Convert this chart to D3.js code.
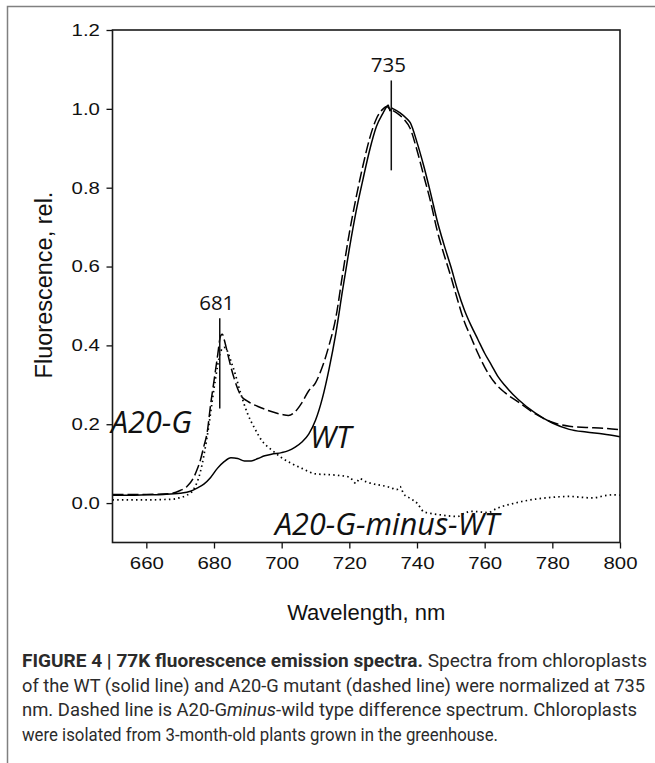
<!DOCTYPE html>
<head>
  <meta charset="utf-8">
  <script src="https://cdn.jsdelivr.net/npm/d3@7"></script>
  <style>
    body { margin:0; background:#fff; }
    svg { display:block; }
  </style>
</head>

<body>
  <script>
    // spectra: [wavelength nm, fluorescence rel.]
    var wtSpectrum = [
      [650,0.020],[655,0.020],[660,0.021],[665,0.022],[670,0.025],[673,0.030],[675,0.038],
      [677,0.048],[679,0.065],[681,0.088],[683,0.105],[685,0.115],[687,0.113],[689,0.107],
      [691,0.107],[693,0.113],[695,0.120],[697,0.124],[700,0.128],[702,0.133],[704,0.142],
      [706,0.155],[708,0.175],[710,0.210],[712,0.265],[714,0.340],[716,0.430],[718,0.540],
      [720,0.645],[722,0.740],[724,0.820],[726,0.895],[728,0.955],[730,0.990],[731,1.005],
      [731.5,1.010],[732,0.995],[732.5,1.002],[733,1.000],[735,0.990],[737,0.975],[738,0.965],
      [740,0.915],[742,0.855],[744,0.787],[746,0.715],[748,0.655],[750,0.600],[752,0.540],
      [754,0.490],[756,0.450],[758,0.415],[760,0.380],[762,0.350],[764,0.320],[766,0.298],
      [770,0.262],[775,0.228],[780,0.203],[785,0.187],[790,0.180],[795,0.175],[800,0.168]
    ];
    var a20gSpectrum = [
      [650,0.022],[660,0.022],[667,0.024],[670,0.032],[672,0.042],[674,0.065],[675,0.085],
      [676,0.110],[677,0.144],[678,0.180],[679,0.250],[680,0.310],[681,0.370],[682,0.425],
      [682.5,0.428],[683,0.415],[684,0.380],[685,0.345],[686,0.315],[687,0.290],[688,0.272],
      [690,0.258],[693,0.245],[696,0.235],[700,0.225],[702,0.222],[704,0.232],[706,0.255],
      [708,0.285],[710,0.305],[712,0.345],[714,0.400],[716,0.470],[718,0.580],[720,0.685],
      [722,0.775],[724,0.855],[726,0.925],[728,0.975],[730,1.000],[731,1.006],[732,1.000],
      [734,0.990],[736,0.975],[738,0.950],[740,0.895],[742,0.830],[744,0.765],[746,0.690],
      [748,0.630],[750,0.575],[752,0.515],[754,0.460],[756,0.420],[758,0.380],[760,0.345],
      [763,0.305],[766,0.280],[770,0.256],[775,0.226],[780,0.205],[785,0.195],[790,0.192],
      [795,0.190],[800,0.186]
    ];
    var diffSpectrum = [
      [650,0.008],[655,0.008],[660,0.008],[665,0.009],[668,0.010],[670,0.014],[672,0.020],
      [674,0.035],[676,0.080],[678,0.170],[680,0.290],[681,0.345],[682,0.385],[683,0.395],
      [684,0.385],[685,0.360],[686,0.335],[688,0.275],[690,0.225],[692,0.190],[694,0.160],
      [697,0.135],[700,0.115],[703,0.100],[706,0.088],[710,0.074],[714,0.072],[717,0.070],
      [720,0.066],[722,0.050],[723,0.062],[725,0.054],[728,0.047],[730,0.044],[732,0.040],
      [734,0.034],[735,0.042],[736,0.024],[738,0.012],[740,0.000],[742,-0.022],[744,-0.026],
      [747,-0.030],[750,-0.033],[752,-0.034],[754,-0.026],[756,-0.021],[758,-0.022],
      [761,-0.024],[763,-0.016],[765,-0.009],[768,-0.002],[771,0.004],[775,0.010],
      [778,0.013],[782,0.016],[785,0.017],[788,0.015],[792,0.013],[795,0.018],[798,0.021],
      [800,0.020]
    ];
    var xTicks = [660,680,700,720,740,760,780,800];
    var yTicks = [0.0,0.2,0.4,0.6,0.8,1.0,1.2];
    // peak markers: label, wavelength of the line, value at bottom and top of the line
    var peakMarks = [
      {label:"681", nm:681.7, lo:0.24, hi:0.469},
      {label:"735", nm:732.4, lo:0.844, hi:1.072}
    ];
    var captionLines = [
      [["FIGURE 4 | 77K fluorescence emission spectra.","b"],[" Spectra from chloroplasts",""]],
      [["of the WT (solid line) and A20-G mutant (dashed line) were normalized at 735",""]],
      [["nm. Dashed line is A20-G",""],["minus","i"],["-wild type difference spectrum. Chloroplasts",""]],
      [["were isolated from 3-month-old plants grown in the greenhouse.",""]]
    ];
    var captionWidths = [625, 623, 615, 476];

    var width = 655, height = 763;
    var svg = d3.select("body").append("svg")
      .attr("width", width).attr("height", height);

    // outer figure frame (left + top only)
    svg.append("path")
      .attr("d", "M7.5,763V6.5H655")
      .attr("fill", "none").attr("stroke", "#808080").attr("stroke-width", 1.5);

    var x = d3.scaleLinear().domain([650, 800]).range([112.5, 620]);
    var y = d3.scaleLinear().domain([-0.1, 1.2]).range([542.5, 30]);

    var line = d3.line()
      .x(function(d) { return x(d[0]); })
      .y(function(d) { return y(d[1]); })
      .curve(d3.curveMonotoneX);

    svg.append("path").datum(diffSpectrum)
      .attr("d", line).attr("fill", "none").attr("stroke", "#000")
      .attr("stroke-width", 1.7).attr("stroke-dasharray", "1.5,3.2");
    svg.append("path").datum(wtSpectrum)
      .attr("d", line).attr("fill", "none").attr("stroke", "#000")
      .attr("stroke-width", 1.5);
    svg.append("path").datum(a20gSpectrum)
      .attr("d", line).attr("fill", "none").attr("stroke", "#000")
      .attr("stroke-width", 1.5).attr("stroke-dasharray", "11,4");

    // axes
    var yAxis = svg.append("g").attr("transform", "translate(112.5,0)")
      .call(d3.axisLeft(y).tickValues(yTicks).tickSize(6).tickPadding(4.5)
        .tickFormat(d3.format(".1f")));
    var xAxis = svg.append("g").attr("transform", "translate(0,542.5)")
      .call(d3.axisBottom(x).tickValues(xTicks).tickSize(6).tickPadding(8)
        .tickFormat(d3.format("d")));
    [xAxis, yAxis].forEach(function(ax) {
      ax.select(".domain").remove();
      ax.selectAll(".tick line").attr("stroke", "#111").attr("stroke-width", 1.3);
      ax.selectAll(".tick text")
        .attr("fill", "#111")
        .style("font-family", "Liberation Sans, Arial, sans-serif")
        .style("font-size", "17px")
        .attr("transform", "scale(1.2,1)");
    });

    svg.append("rect")
      .attr("x", x(650)).attr("y", y(1.2))
      .attr("width", x(800) - x(650)).attr("height", y(-0.1) - y(1.2))
      .attr("fill", "none").attr("stroke", "#1a1a1a").attr("stroke-width", 1.6);

    svg.append("text")
      .attr("x", (x(650) + x(800)) / 2).attr("y", 620)
      .attr("text-anchor", "middle")
      .style("font-family", "Liberation Sans, Arial, sans-serif").style("font-size", "22px")
      .attr("fill", "#111")
      .text("Wavelength, nm");
    svg.append("text")
      .attr("transform", "translate(52,285)rotate(-90)")
      .attr("text-anchor", "middle")
      .style("font-family", "Liberation Sans, Arial, sans-serif").style("font-size", "23.5px")
      .attr("fill", "#111")
      .text("Fluorescence, rel.");

    // peak markers
    peakMarks.forEach(function(p) {
      svg.append("line")
        .attr("x1", x(p.nm)).attr("x2", x(p.nm))
        .attr("y1", y(p.lo)).attr("y2", y(p.hi))
        .attr("stroke", "#111").attr("stroke-width", 1.5);
      svg.append("text")
        .attr("x", x(p.nm) - 3).attr("y", y(p.hi) - 8)
        .attr("text-anchor", "middle")
        .style("font-family", "Open Sans, sans-serif").style("font-size", "20.5px")
        .attr("fill", "#111")
        .text(p.label);
    });

    // curve labels
    var curveLabels = [
      {text:"A20-G", x:111, y:433},
      {text:"WT", x:310, y:448},
      {text:"A20-G-minus-WT", x:275, y:535}
    ];
    svg.selectAll(".clab").data(curveLabels).enter().append("text")
      .attr("class", "clab")
      .attr("x", function(d) { return d.x; })
      .attr("y", function(d) { return d.y; })
      .style("font-family", "Open Sans, sans-serif").style("font-size", "30.5px")
      .style("font-style", "italic")
      .attr("fill", "#111")
      .text(function(d) { return d.text; });

    // caption
    captionLines.forEach(function(parts, i) {
      var t = svg.append("text")
        .attr("x", 22).attr("y", 667 + i * 24.5)
        .attr("textLength", captionWidths[i])
        .attr("lengthAdjust", "spacingAndGlyphs")
        .style("font-family", "Roboto, sans-serif").style("font-size", "17.5px")
        .attr("fill", "#2b2b2b");
      parts.forEach(function(p) {
        var s = t.append("tspan").text(p[0]);
        if (p[1] == "b") s.style("font-weight", "bold");
        if (p[1] == "i") s.style("font-style", "italic");
      });
    });
  </script>
</body>
